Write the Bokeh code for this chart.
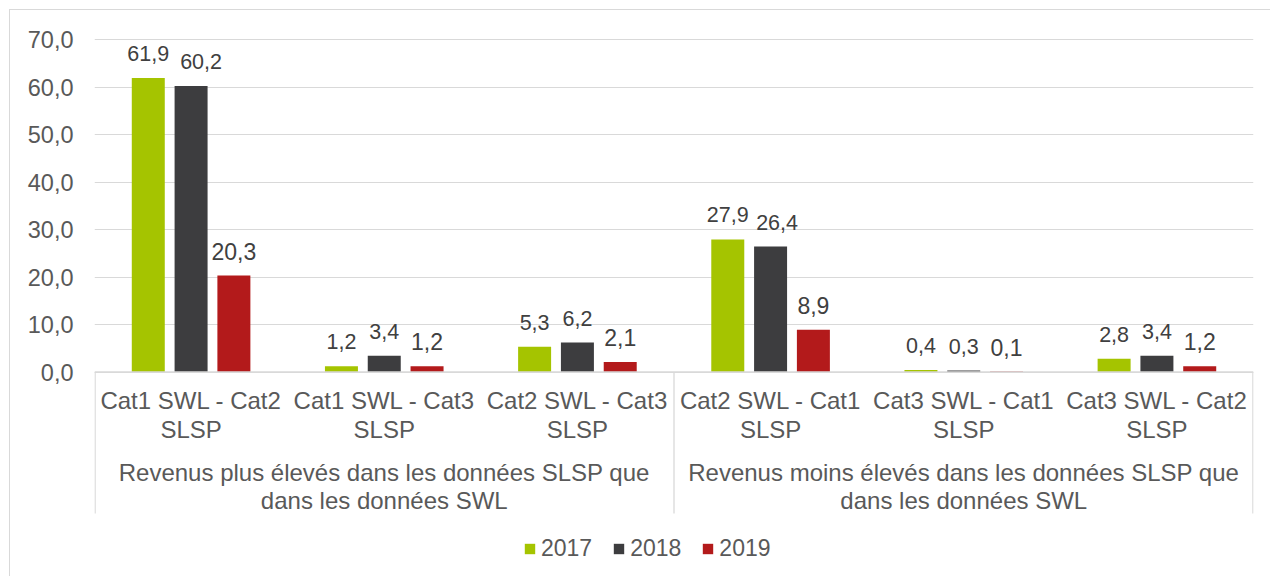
from bokeh.plotting import figure
from bokeh.models import Range1d, FixedTicker, ColumnDataSource
from bokeh.core.properties import value
from bokeh.embed import file_html
from bokeh.resources import INLINE

# ---- data ----
cat_line1 = ["Cat1 SWL - Cat2", "Cat1 SWL - Cat3", "Cat2 SWL - Cat3",
             "Cat2 SWL - Cat1", "Cat3 SWL - Cat1", "Cat3 SWL - Cat2"]
cat_line2 = ["SLSP", "SLSP", "SLSP", "SLSP", "SLSP", "SLSP"]
group_line1 = ["Revenus plus élevés dans les données SLSP que",
               "Revenus moins élevés dans les données SLSP que"]
group_line2 = ["dans les données SWL", "dans les données SWL"]
group_size = 3
years = ["2017", "2018", "2019"]
v2017 = [61.9, 1.2, 5.3, 27.9, 0.4, 2.8]
v2018 = [60.2, 3.4, 6.2, 26.4, 0.3, 3.4]
v2019 = [20.3, 1.2, 2.1, 8.9, 0.1, 1.2]
yticks = [0, 10, 20, 30, 40, 50, 60, 70]
ytick_labels = ["0,0", "10,0", "20,0", "30,0", "40,0", "50,0", "60,0", "70,0"]

# label nudges (screen px) to avoid overlapping labels, as in the original
nudge = [[0] * 6, [10, 0, 0, 6.5, 0, 0], [0] * 6]

colors = ["#a5c400", "#3d3d3f", "#b31a1b"]
FONT = value("Liberation Sans")
TXT = "#595959"
LBL = "#404040"

p = figure(width=1261, height=567, output_backend="svg", toolbar_location=None,
           x_range=Range1d(0, 6), y_range=Range1d(-43.26, 71.895),
           x_axis_location=None,
           min_border_left=84, min_border_right=18, min_border_top=20,
           min_border_bottom=0)
p.margin = (9, 0, 0, 9)
p.outline_line_color = None
p.styles = {"border-top": "1px solid #d9d9d9", "border-left": "1px solid #d9d9d9"}

p.xgrid.visible = False
p.ygrid.ticker = FixedTicker(ticks=yticks)
p.ygrid.grid_line_color = "#d9d9d9"
p.ygrid.grid_line_width = 1

ax = p.yaxis[0]
ax.ticker = FixedTicker(ticks=yticks)
ax.major_label_overrides = {t: l for t, l in zip(yticks, ytick_labels)}
ax.axis_line_color = None
ax.major_tick_line_color = None
ax.minor_tick_line_color = None
ax.major_tick_out = 0
ax.major_tick_in = 0
ax.major_label_standoff = 21
ax.major_label_text_font = "Liberation Sans"
ax.major_label_text_font_size = "23.5px"
ax.major_label_text_color = TXT

bar_w = 0.1708
pitch = 0.2216
n = len(cat_line1)
series = [v2017, v2018, v2019]
for i, (yr, vals, col) in enumerate(zip(years, series, colors)):
    xs = [g + 0.5 + (i - 1) * pitch for g in range(n)]
    src = ColumnDataSource(dict(x=xs, top=vals, dx=nudge[i],
                                lab=[f"{v:.1f}".replace(".", ",") for v in vals]))
    p.vbar(x="x", top="top", width=bar_w, bottom=0, source=src,
           fill_color=col, line_color=None, legend_label=yr)
    p.text(x="x", y="top", text="lab", source=src, text_align="center",
           text_baseline="alphabetic", y_offset=-24.5, x_offset="dx",
           text_font=FONT, text_font_size="23px" if i == 2 else "21.5px",
           text_color=LBL)

# axis line and separators
p.segment(x0=[0], y0=[0], x1=[n], y1=[0], line_color="#d9d9d9", line_width=1.3)
sep_x = [0.003, group_size, n - 0.003]
p.segment(x0=sep_x, y0=[0] * 3, x1=sep_x, y1=[-29.8] * 3,
          line_color="#d9d9d9", line_width=1.3)

# category labels
cx = [g + 0.5 for g in range(n)]
p.text(x=cx, y=[0] * n, text=cat_line1, text_align="center",
       text_baseline="alphabetic", y_offset=28, text_font=FONT,
       text_font_size="24px", text_color=TXT)
p.text(x=cx, y=[0] * n, text=cat_line2, text_align="center",
       text_baseline="alphabetic", y_offset=57, text_font=FONT,
       text_font_size="24px", text_color=TXT)
gx = [k * group_size + group_size / 2 for k in range(len(group_line1))]
p.text(x=gx, y=[0, 0], text=group_line1, text_align="center",
       text_baseline="alphabetic", y_offset=100, text_font=FONT,
       text_font_size="24px", text_color=TXT)
p.text(x=gx, y=[0, 0], text=group_line2, text_align="center",
       text_baseline="alphabetic", y_offset=128, text_font=FONT,
       text_font_size="24px", text_color=TXT)

lg = p.legend[0]
lg.orientation = "horizontal"
lg.location = (429, 15)
lg.border_line_color = None
lg.background_fill_alpha = 0
lg.padding = 0
lg.margin = 0
lg.spacing = 20
lg.glyph_width = 13
lg.glyph_height = 13
lg.label_standoff = 5
lg.label_text_font = "Liberation Sans"
lg.label_text_font_size = "23px"
lg.label_text_color = TXT

open("out.html", "w").write(file_html(p, INLINE))
